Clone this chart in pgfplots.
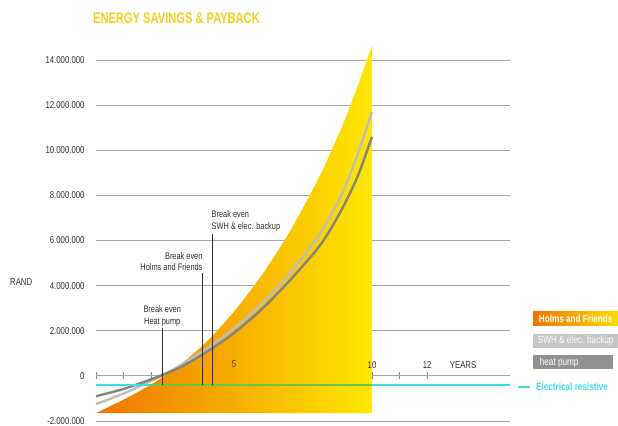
\documentclass[border=0pt]{standalone}
\usepackage{fontspec}
\setmainfont{Liberation Sans}[FakeStretch=0.78]
\newfontfamily\titlefont{Liberation Sans}[FakeStretch=0.72]
\usepackage{pgfplots}
\usepackage{pgfplotstable}
\pgfplotsset{compat=1.18}

\definecolor{hforange}{RGB}{238,118,0}
\definecolor{hfmid}{RGB}{248,170,0}
\definecolor{hfyellow}{RGB}{255,232,0}
\definecolor{swhgray}{RGB}{190,190,182}
\definecolor{hpgray}{RGB}{132,132,125}
\definecolor{elcyan}{RGB}{60,222,230}
\definecolor{elgreen}{RGB}{100,200,70}
\definecolor{gridgray}{RGB}{165,165,165}
\definecolor{titleyellow}{RGB}{240,210,30}
\definecolor{boxgray1}{RGB}{198,198,198}
\definecolor{boxgray2}{RGB}{145,145,145}
\definecolor{txt}{RGB}{45,45,45}

\pgfplotstableread{
x y
0 -1.65
1 -1.05
2 -0.38
3 0.45
4 1.5
5 2.85
6 4.45
7 6.35
8 8.6
8.5 9.9
9 11.3
9.5 12.9
10 14.65
}\holms

\pgfplotstableread{
x y
0 -1.25
1 -0.78
2 -0.22
3 0.42
4 1.2
5 2.1
6 3.2
7 4.5
8 6.1
8.5 7.1
9 8.3
9.5 9.9
10 11.7
}\swh

\pgfplotstableread{
x y
0 -0.9
1 -0.58
2 -0.15
3 0.35
4 1.05
5 1.9
6 2.95
7 4.2
8 5.6
8.5 6.5
9 7.6
9.5 8.9
10 10.6
}\heatpump

\begin{document}
\begin{tikzpicture}[font=\fontsize{9.5}{11.5}\selectfont]
\path[use as bounding box] (-96bp,-5bp) rectangle (522bp,421bp);
\begin{axis}[
  at={(0,0)}, anchor=south west, scale only axis,
  width=414bp, height=361bp,
  xmin=0, xmax=15, ymin=-2, ymax=14,
  clip=false,
  axis x line*=middle, axis y line*=left,
  hide obscured x ticks=false, hide obscured y ticks=false,
  y axis line style={draw=none},
  x axis line style={gridgray, line width=0.9bp, -},
  ytick={-2,0,...,14},
  yticklabels={-2.000.000,0,2.000.000,4.000.000,6.000.000,8.000.000,10.000.000,12.000.000,14.000.000},
  ytick style={draw=none},
  yticklabel style={font=\fontsize{10}{12}\selectfont, text=txt, anchor=east, xshift=-8bp},
  ymajorgrids, grid style={gridgray, line width=0.9bp},
  xtick={0,...,12}, xticklabels={},
  xtick align=center, major tick length=7bp,
  xtick style={gridgray!80!black, line width=0.7bp},
]
\addplot[draw=none, smooth, left color=hforange, middle color=hfmid, right color=hfyellow, forget plot] table {\holms} -- (axis cs:10,-1.65) -- (axis cs:0,-1.65) -- cycle;

\addplot[swhgray, line width=2.4bp, smooth] table {\swh};
\addplot[hpgray, line width=2.4bp, smooth] table {\heatpump};

\addplot[elcyan, line width=1.8bp] coordinates {(0,-0.42) (1.95,-0.42)};
\addplot[elgreen, line width=1.8bp] coordinates {(1.95,-0.42) (10,-0.42)};
\addplot[elcyan, line width=1.8bp] coordinates {(10,-0.42) (15,-0.42)};

\addplot[txt, line width=0.6bp] coordinates {(2.4,-0.42) (2.4,2.1)};
\addplot[txt, line width=0.6bp] coordinates {(3.85,-0.42) (3.85,4.55)};
\addplot[txt, line width=0.6bp] coordinates {(4.2,-0.42) (4.2,6.3)};

\node[anchor=south, align=center, text=txt, inner sep=1bp] at (axis cs:2.4,2.15) {Break even\\Heat pump};
\node[anchor=south east, align=right, text=txt, inner sep=1bp] at (axis cs:3.9,4.6) {Break even\\Holms and Friends};
\node[anchor=south west, align=left, text=txt, inner sep=1bp] at (axis cs:4.15,6.35) {Break even\\SWH \& elec. backup};

\node[text=txt!80!hforange, font=\fontsize{10}{12}\selectfont] at (axis cs:5,0.5) {5};
\node[text=txt, font=\fontsize{10}{12}\selectfont] at (axis cs:10,0.5) {10};
\node[text=txt, font=\fontsize{10}{12}\selectfont] at (axis cs:12,0.5) {12};
\node[text=txt, font=\fontsize{10}{12}\selectfont] at (axis cs:13.3,0.5) {YEARS};
\end{axis}

\node[anchor=west, text=titleyellow, font=\titlefont\bfseries\fontsize{15.5}{17}\selectfont, inner sep=0pt] at (-3bp,403bp) {ENERGY SAVINGS \& PAYBACK};
\node[anchor=west, text=txt, font=\fontsize{10}{12}\selectfont, inner sep=0pt] at (-86bp,139bp) {RAND};

\node[anchor=west, left color=hforange, right color=hfyellow!90!hforange, text=white, font=\bfseries\fontsize{10.5}{12}\selectfont, minimum width=85bp, minimum height=14bp, inner sep=0pt] at (437bp,102bp) {Holms and Friends};
\node[anchor=west, fill=boxgray1, text=white, font=\fontsize{10.5}{12}\selectfont, minimum width=85bp, minimum height=14bp, inner sep=0pt] at (437bp,80bp) {SWH \& elec. backup};
\node[anchor=west, fill=boxgray2, text=white, font=\fontsize{10.5}{12}\selectfont, minimum width=80bp, minimum height=14bp, inner sep=0pt] at (437bp,58.5bp) {heat pump\hspace*{28bp}};
\draw[elcyan, line width=1.6bp] (422bp,34bp) -- (434bp,34bp);
\node[anchor=west, text=elcyan, font=\bfseries\fontsize{10.5}{12}\selectfont, inner sep=0pt] at (440bp,34bp) {Electrical resistive};
\end{tikzpicture}
\end{document}
